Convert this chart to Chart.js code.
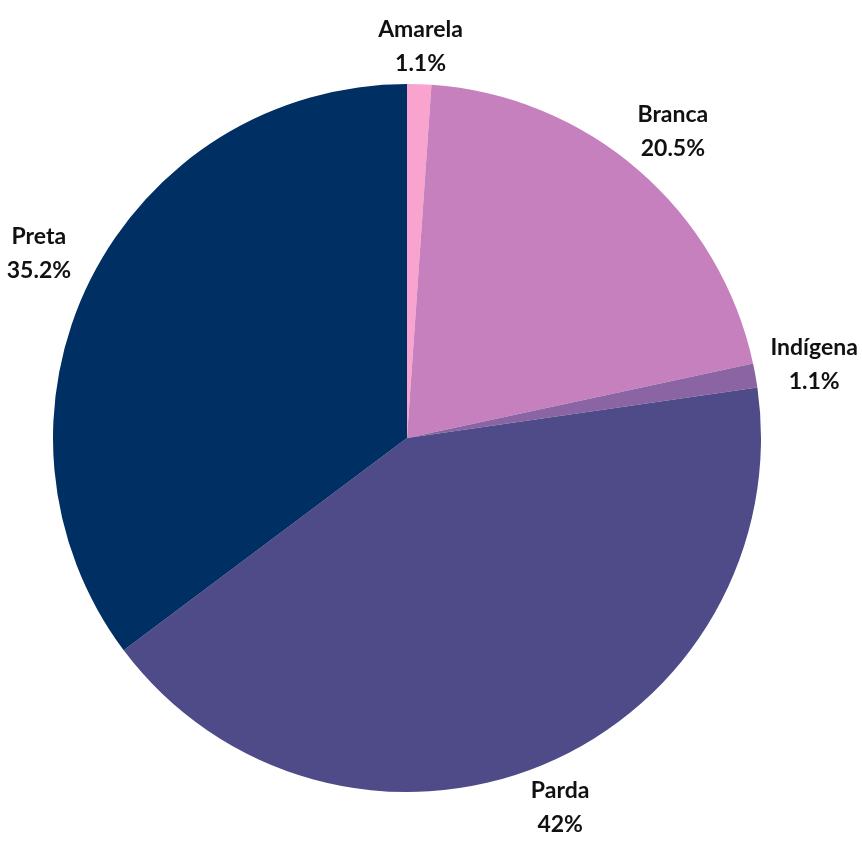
<!DOCTYPE html>
<html>
<head>
<meta charset="utf-8">
<script src="https://cdn.jsdelivr.net/npm/chart.js@4"></script>
<style>
  html, body { margin: 0; padding: 0; background: #fff; }
  #wrap { width: 862px; height: 841px; }
</style>
</head>
<body>
<div id="wrap"><canvas id="chart" width="862" height="841"></canvas></div>
<script>
const labels = ['Amarela', 'Branca', 'Indígena', 'Parda', 'Preta'];
const values = [1.1, 20.5, 1.1, 42, 35.2];
const colors = ['#f9a3cf', '#c680bd', '#8b65a3', '#4f4a88', '#002f63'];

// name + percentage written outside each slice;
// side labels sit a little further out since their boxes are wider than tall
const outsideLabels = {
  id: 'outsideLabels',
  afterDatasetsDraw(chart) {
    const ctx = chart.ctx;
    const meta = chart.getDatasetMeta(0);
    ctx.save();
    ctx.fillStyle = '#111';
    ctx.textAlign = 'center';
    ctx.textBaseline = 'middle';
    ctx.font = 'bold 23px Lato, "Open Sans", sans-serif';
    meta.data.forEach((arc, i) => {
      const mid = (arc.startAngle + arc.endAngle) / 2;
      const r = arc.outerRadius + 37 + 23 * Math.abs(Math.cos(mid));
      const x = arc.x + Math.cos(mid) * r;
      const y = arc.y + Math.sin(mid) * r;
      ctx.fillText(labels[i], x, y - 17);
      ctx.fillText(values[i] + '%', x, y + 17);
    });
    ctx.restore();
  }
};

new Chart(document.getElementById('chart'), {
  type: 'pie',
  data: {
    labels: labels,
    datasets: [{
      data: values,
      backgroundColor: colors,
      borderWidth: 0
    }]
  },
  options: {
    responsive: false,
    animation: false,
    layout: { padding: { left: 53, right: 101, top: 84, bottom: 49 } },
    plugins: {
      legend: { display: false },
      tooltip: { enabled: false }
    }
  },
  plugins: [outsideLabels]
});
</script>
</body>
</html>
